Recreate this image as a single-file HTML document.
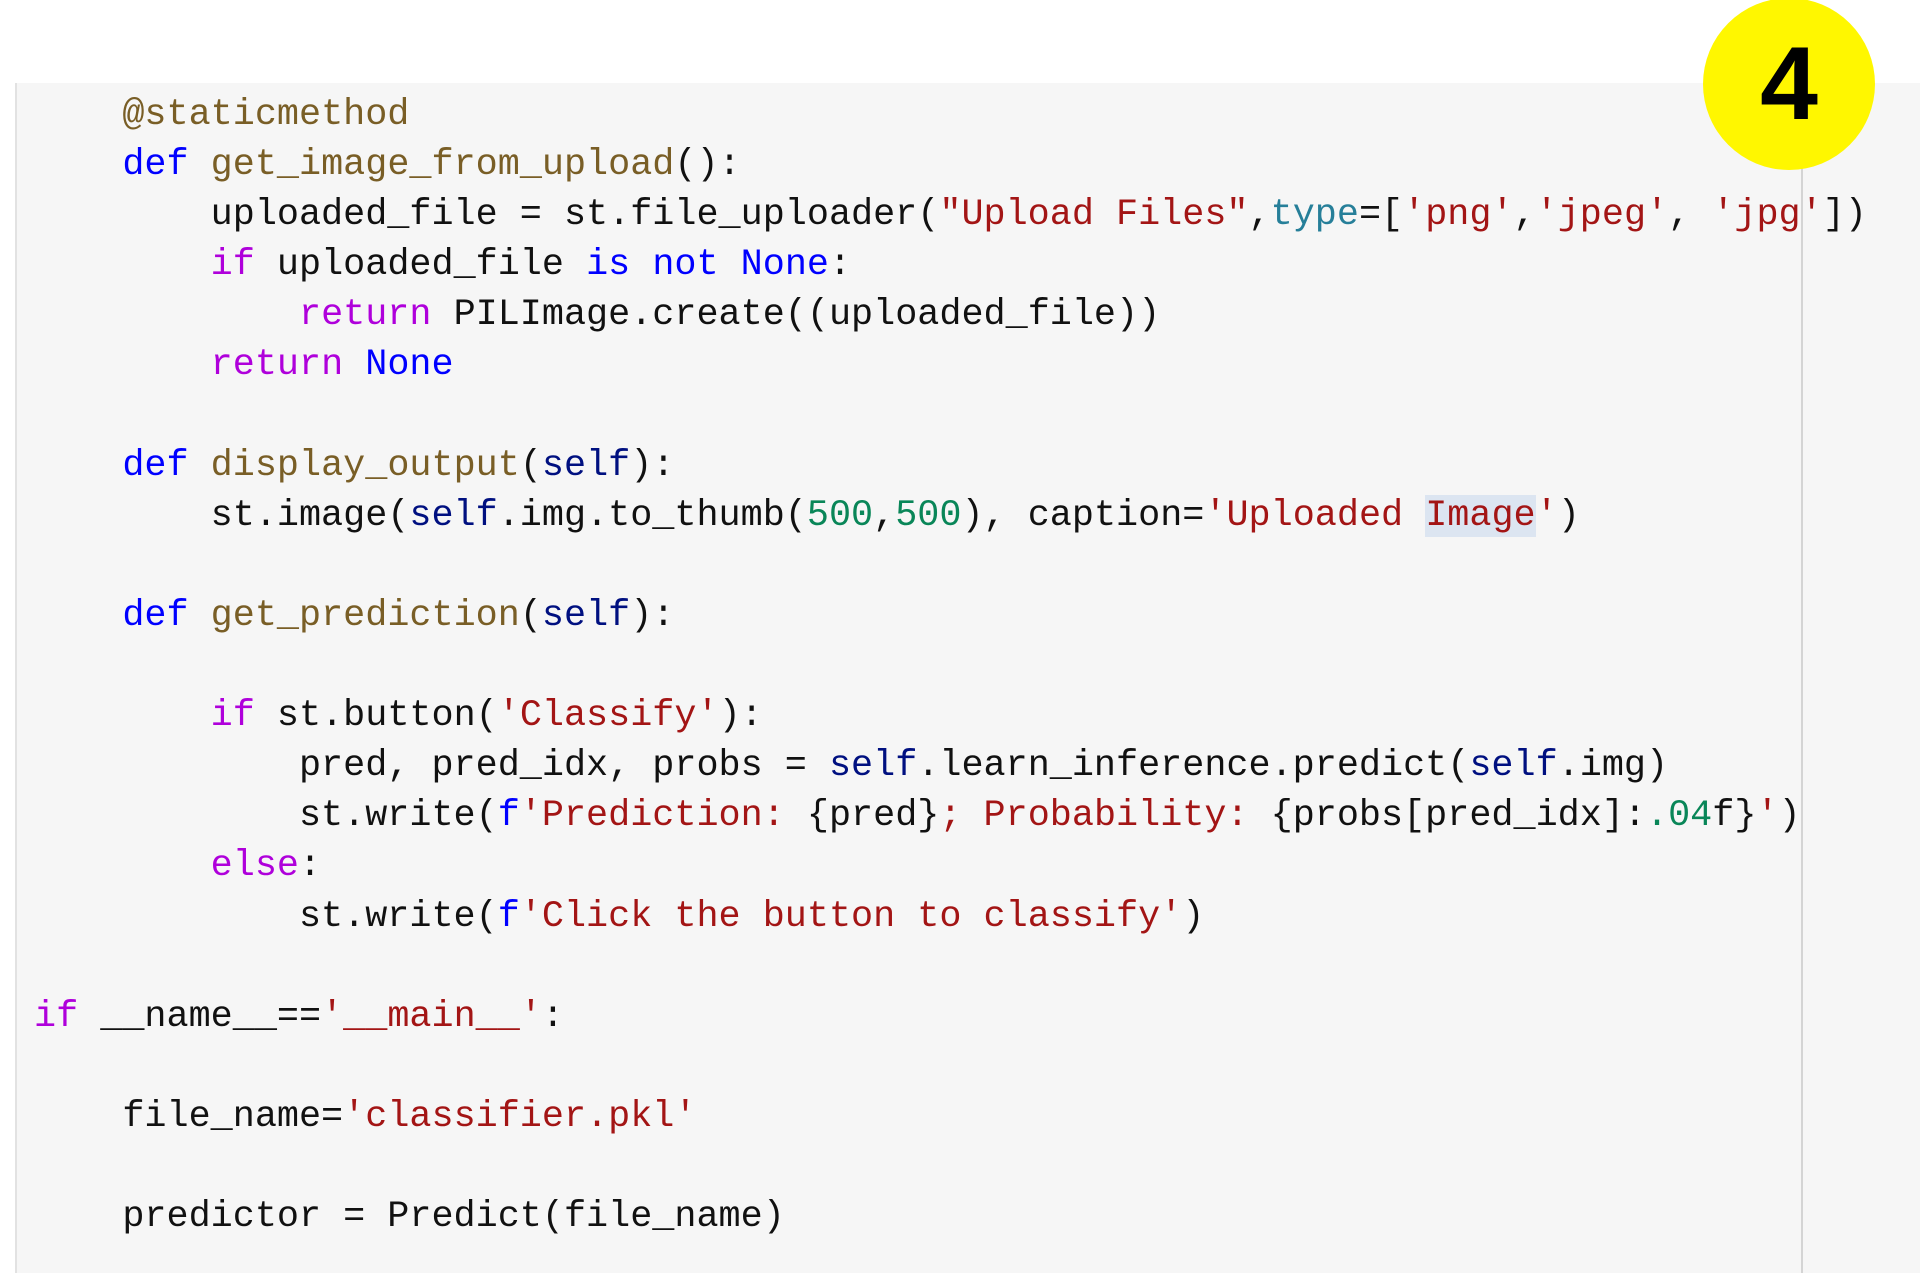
<!DOCTYPE html>
<html><head><meta charset="utf-8"><style>
html,body{margin:0;padding:0;background:#fff;width:1920px;height:1288px;overflow:hidden;position:relative}
#box{position:absolute;left:15px;top:83px;width:1905px;height:1190px;background:#f6f6f6;border-left:2px solid #e2e2e2}
#vl{position:absolute;left:1801px;top:83px;width:2px;height:1190px;background:#d4d4d4}
pre{position:absolute;left:34px;top:90px;margin:0;font-family:"Liberation Mono",monospace;font-size:36.8px;line-height:50.1px;color:#111}
.d{color:#0000ff}.f{color:#795e26}.k{color:#af00db}.s{color:#a31515}.v{color:#001080}.n{color:#098658}.t{color:#267f99}
.h{background:#dce5f1}
#c{position:absolute;left:1703px;top:-2px;width:172px;height:172px;border-radius:50%;background:#fff700;text-align:center;font-family:"Liberation Sans",sans-serif;font-weight:bold;font-size:104px;line-height:172px;color:#000}
</style></head><body>
<div id="box"></div><div id="vl"></div>
<pre>    <span class="f">@staticmethod</span>
    <span class="d">def</span> <span class="f">get_image_from_upload</span>():
        uploaded_file = st.file_uploader(<span class="s">"Upload Files"</span>,<span class="t">type</span>=[<span class="s">'png'</span>,<span class="s">'jpeg'</span>, <span class="s">'jpg'</span>])
        <span class="k">if</span> uploaded_file <span class="d">is</span> <span class="d">not</span> <span class="d">None</span>:
            <span class="k">return</span> PILImage.create((uploaded_file))
        <span class="k">return</span> <span class="d">None</span>

    <span class="d">def</span> <span class="f">display_output</span>(<span class="v">self</span>):
        st.image(<span class="v">self</span>.img.to_thumb(<span class="n">500</span>,<span class="n">500</span>), caption=<span class="s">'Uploaded <span class="h">Image</span>'</span>)

    <span class="d">def</span> <span class="f">get_prediction</span>(<span class="v">self</span>):

        <span class="k">if</span> st.button(<span class="s">'Classify'</span>):
            pred, pred_idx, probs = <span class="v">self</span>.learn_inference.predict(<span class="v">self</span>.img)
            st.write(<span class="d">f</span><span class="s">'Prediction: </span>{pred}<span class="s">; Probability: </span>{probs[pred_idx]:<span class="n">.04</span>f}<span class="s">'</span>)
        <span class="k">else</span>:
            st.write(<span class="d">f</span><span class="s">'Click the button to classify'</span>)

<span class="k">if</span> __name__==<span class="s">'__main__'</span>:

    file_name=<span class="s">'classifier.pkl'</span>

    predictor = Predict(file_name)</pre>
<div id="c">4</div>
</body></html>
